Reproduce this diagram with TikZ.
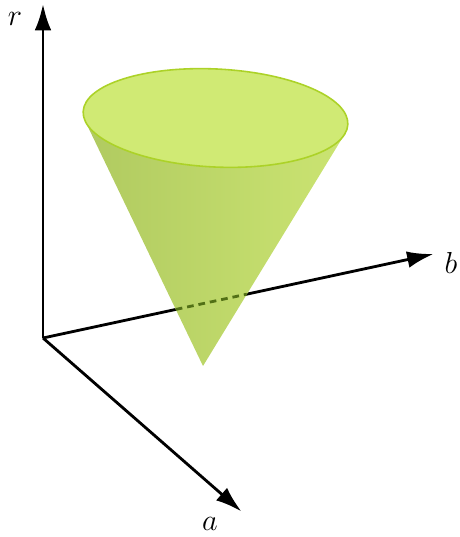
\documentclass[tikz,border=0pt]{standalone}
\usepackage{amsmath,amssymb}
\usepackage{xcolor}
\usepackage{tikz}
\usetikzlibrary{arrows.meta,positioning,calc}

\definecolor{conedark}{RGB}{176,202,96}
\definecolor{conelight}{RGB}{203,228,114}
\definecolor{lidfill}{RGB}{208,234,116}
\definecolor{lidrim}{RGB}{172,210,40}
\definecolor{hiddengreen}{RGB}{82,112,22}

\tikzset{
  axis/.style={line width=1.6pt, black, -{Latex[length=15pt,width=9.5pt]}},
  axislabel/.style={font=\LARGE},
  hiddenline/.style={line width=1.6pt, hiddengreen, dash pattern=on 3.8pt off 2.8pt}
}

\begin{document}
\begin{tikzpicture}
  \useasboundingbox (-0.86,-3.98) rectangle (8.32,6.76);

  % Axes
  \coordinate (O) at (0,0);
  \coordinate (rtip) at (0,6.68);
  \coordinate (btip) at (7.81,1.68);
  \coordinate (atip) at (3.97,-3.47);
  \draw[axis] (O) -- (rtip);
  \draw[axis] (O) -- (btip);
  \draw[axis] (O) -- (atip);
  \node[axislabel] (rlabel) at (-0.56,6.38) {$r$};
  \node[axislabel] (blabel) at (8.16,1.5) {$b$};
  \node[axislabel] (alabel) at (3.34,-3.72) {$a$};

  % Cone
  \coordinate (apex) at (3.2,-0.56);
  \coordinate (C) at (3.45,4.40);
  \begin{scope}[shift={(C)}, rotate=-2.8]
    \coordinate (L) at (191.35:2.65 and 0.98);
    \coordinate (R) at (-11.41:2.65 and 0.98);
  \end{scope}
  \shade[left color=conedark, right color=conelight] (apex) -- (L) -- (R) -- cycle;
  \begin{scope}[shift={(C)}, rotate=-2.8]
    \filldraw[fill=lidfill, draw=lidrim, line width=0.9pt] (0,0) ellipse (2.65 and 0.98);
  \end{scope}

  % Hidden part of the b axis
  \draw[hiddenline] ($(O)!0.34!(btip)$) -- ($(O)!0.522!(btip)$);
\end{tikzpicture}
\end{document}
